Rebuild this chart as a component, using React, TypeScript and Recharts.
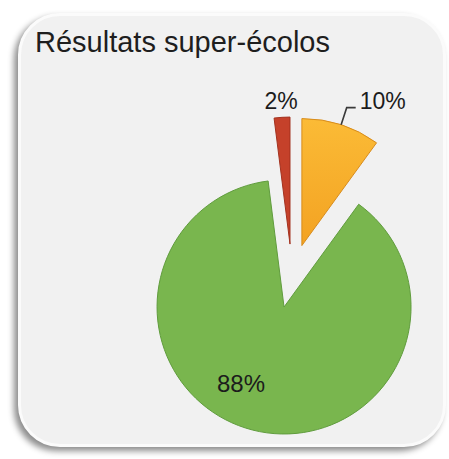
import React from 'react';
import { PieChart, Pie, Cell } from 'recharts';

const categories = ['Vert', 'Rouge', 'Orange'];
const values = [88, 2, 10];
const labels = ['88%', '2%', '10%'];
const title = 'Résultats super-écolos';

const COLORS = ['#79b64e', '#c5412a', 'url(#orangeGrad)'];
const STROKES = ['#609c3d', '#a3321f', '#d88c1c'];

const data = categories.map((name, i) => ({ name, value: values[i], label: labels[i] }));

const W = 449;
const H = 459;
const CX = 292;
const CY = 276;
const R = 127;
const EXPLODE = 32;
const START = 54;
const END = -306;
const RAD = Math.PI / 180;
const FONT = '"Liberation Sans", Arial, sans-serif';

const total = values.reduce((a, b) => a + b, 0);
const midAngles = values.map((v, i) => {
  const before = values.slice(0, i).reduce((a, b) => a + b, 0);
  return START + ((END - START) * (before + v / 2)) / total;
});

const renderLabel = (k: number) => (props: any) => {
  if (props.index !== k) return null;
  const { cx, cy, midAngle, outerRadius } = props;
  const text = data[k].label;
  if (k === 0) {
    // inside the big slice
    const a = (midAngle - 15) * RAD;
    const r = outerRadius * 0.69;
    return (
      <text x={cx + r * Math.cos(-a)} y={cy + r * Math.sin(-a)} textAnchor="middle"
        dominantBaseline="central" fill="#1c1c1c" fontSize={24} fontFamily={FONT}>
        {text}
      </text>
    );
  }
  const cos = Math.cos(-midAngle * RAD);
  const sin = Math.sin(-midAngle * RAD);
  if (k === 1) {
    const r = outerRadius + 16;
    return (
      <text x={cx + r * cos} y={cy + r * sin} textAnchor="middle" dominantBaseline="central"
        fill="#1c1c1c" fontSize={23} fontFamily={FONT}>
        {text}
      </text>
    );
  }
  const x0 = cx + outerRadius * cos;
  const y0 = cy + outerRadius * sin;
  const x1 = cx + (outerRadius + 18) * cos;
  const y1 = cy + (outerRadius + 18) * sin;
  const x2 = x1 + 9;
  return (
    <g>
      <polyline points={`${x0},${y0} ${x1},${y1} ${x2},${y1}`} fill="none" stroke="#3a3a3a" strokeWidth={1.6} />
      <text x={x2 + 4} y={y1 - 7} textAnchor="start" dominantBaseline="central"
        fill="#1c1c1c" fontSize={23} fontFamily={FONT}>
        {text}
      </text>
    </g>
  );
};

export default function App() {
  return (
    <div style={{ position: 'absolute', left: 0, top: 0, width: W, height: H, background: '#fff', overflow: 'hidden' }}>
      <div
        style={{
          position: 'absolute',
          left: 18,
          top: 13,
          width: 428,
          height: 434,
          boxSizing: 'border-box',
          borderRadius: 42,
          background: '#f1f1f1',
          border: '3px solid #fbfbfb',
          boxShadow: '-4px 4px 6px rgba(0,0,0,0.45)',
        }}
      />
      <div
        style={{
          position: 'absolute',
          left: 35,
          top: 28,
          fontSize: 29,
          lineHeight: '29px',
          fontFamily: FONT,
          color: '#1e1e1e',
          whiteSpace: 'nowrap',
        }}
      >
        {title}
      </div>
      <div style={{ position: 'absolute', left: 0, top: 0 }}>
        <PieChart width={W} height={H} margin={{ top: 0, right: 0, bottom: 0, left: 0 }}>
          <defs>
            <linearGradient id="orangeGrad" x1="0" y1="0" x2="0" y2="1">
              <stop offset="0%" stopColor="#fbbb36" />
              <stop offset="100%" stopColor="#f3a222" />
            </linearGradient>
          </defs>
          {data.map((d, k) => (
            <Pie
              key={d.name}
              data={data}
              dataKey="value"
              nameKey="name"
              cx={CX + EXPLODE * Math.cos(-midAngles[k] * RAD)}
              cy={CY + EXPLODE * Math.sin(-midAngles[k] * RAD)}
              innerRadius={0}
              outerRadius={R}
              startAngle={START}
              endAngle={END}
              isAnimationActive={false}
              labelLine={false}
              label={renderLabel(k)}
            >
              {data.map((e, i) => (
                <Cell
                  key={`cell-${k}-${i}`}
                  fill={i === k ? COLORS[i] : 'none'}
                  stroke={i === k ? STROKES[i] : 'none'}
                  strokeWidth={1}
                />
              ))}
            </Pie>
          ))}
        </PieChart>
      </div>
    </div>
  );
}
